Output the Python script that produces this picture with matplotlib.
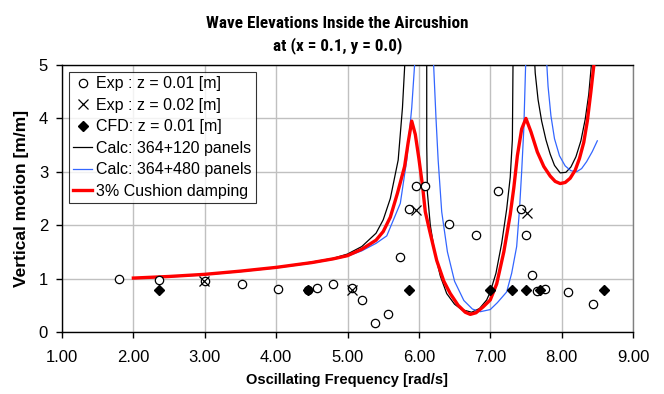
import matplotlib.pyplot as plt
from matplotlib import font_manager
import numpy as np

plt.rcParams['font.family'] = ['Liberation Sans', 'DejaVu Sans']

# ── Experimental / CFD points ──────────────────────────────
exp1_x = [1.80, 2.36, 3.00, 3.52, 4.02, 4.44, 4.57, 4.80, 5.06, 5.21, 5.38, 5.57,
          5.73, 5.86, 5.96, 6.09, 6.42, 6.80, 7.11, 7.43, 7.50, 7.59, 7.65, 7.77,
          8.09, 8.44]
exp1_y = [1.00, 0.97, 0.95, 0.89, 0.81, 0.79, 0.83, 0.90, 0.82, 0.60, 0.16, 0.34,
          1.41, 2.31, 2.74, 2.73, 2.02, 1.81, 2.64, 2.31, 1.82, 1.06, 0.77, 0.81,
          0.74, 0.53]

exp2_x = [2.99, 5.06, 5.96, 7.51]
exp2_y = [0.95, 0.79, 2.28, 2.22]

cfd_x = [2.36, 4.45, 5.86, 7.00, 7.30, 7.50, 7.70, 8.60]
cfd_y = [0.78, 0.78, 0.78, 0.78, 0.78, 0.78, 0.78, 0.78]

# ── Calculated curves (values above 5 are clipped) ─────────
calc120_x = [2.0, 2.5, 3.0, 3.5, 4.0, 4.5, 4.8, 5.0, 5.2, 5.4, 5.5, 5.6, 5.71, 5.77,
             5.81, 5.83, 6.09, 6.11, 6.11, 6.12, 6.16, 6.22, 6.30, 6.39, 6.50, 6.60,
             6.74, 6.85, 6.95, 7.00, 7.08, 7.16, 7.23, 7.28, 7.31, 7.32, 7.33, 7.59,
             7.61, 7.63, 7.67, 7.72, 7.78, 7.84, 7.90, 7.98, 8.06, 8.13, 8.20, 8.27,
             8.33, 8.38, 8.43]
calc120_y = [1.01, 1.04, 1.08, 1.14, 1.21, 1.31, 1.38, 1.46, 1.60, 1.85, 2.10, 2.50, 3.22, 4.20,
             5.20, 8.00, 8.00, 5.00, 3.50, 2.60, 2.00, 1.50, 1.05, 0.72, 0.52, 0.42,
             0.37, 0.44, 0.60, 0.75, 1.10, 1.66, 2.30, 2.90, 3.60, 5.20, 8.00, 8.00,
             5.40, 4.85, 4.35, 3.95, 3.60, 3.33, 3.12, 2.98, 2.99, 3.09, 3.28, 3.58,
             3.98, 4.45, 5.20]

calc480_x = [2.0, 2.5, 3.0, 3.5, 4.0, 4.5, 4.8, 5.0, 5.2, 5.4, 5.55, 5.74, 5.83, 5.90,
             5.95, 5.97, 6.18, 6.20, 6.24, 6.27, 6.32, 6.40, 6.50, 6.63, 6.75, 6.86,
             7.00, 7.10, 7.23, 7.30, 7.37, 7.41, 7.44, 7.47, 7.50, 7.51, 7.76, 7.78,
             7.81, 7.85, 7.90, 7.97, 8.05, 8.13, 8.21, 8.28, 8.35, 8.43, 8.50]
calc480_y = [1.00, 1.03, 1.07, 1.13, 1.20, 1.29, 1.36, 1.42, 1.52, 1.66, 1.80, 2.41, 3.22, 4.20,
             5.20, 8.00, 8.00, 5.20, 4.00, 3.22, 2.25, 1.50, 0.95, 0.59, 0.43, 0.38,
             0.42, 0.55, 0.75, 1.10, 1.60, 2.30, 3.00, 3.80, 5.20, 8.00, 8.00, 5.30,
             4.60, 4.05, 3.62, 3.30, 3.11, 3.02, 3.00, 3.06, 3.19, 3.38, 3.58]

damp_x = [2.0, 2.5, 3.0, 3.5, 4.0, 4.5, 4.8, 5.0, 5.2, 5.4, 5.5, 5.6, 5.7, 5.8, 5.85,
          5.9, 5.95, 6.0, 6.05, 6.09, 6.15, 6.25, 6.35, 6.44, 6.55, 6.65, 6.72, 6.8,
          6.9, 7.0, 7.09, 7.19, 7.28, 7.33, 7.38, 7.44, 7.5, 7.57, 7.66, 7.75, 7.84,
          7.91, 7.98, 8.05, 8.12, 8.19, 8.25, 8.31, 8.36, 8.41, 8.46]
damp_y = [1.01, 1.04, 1.08, 1.14, 1.21, 1.30, 1.37, 1.43, 1.55, 1.72, 1.88, 2.15, 2.60, 3.10, 3.55,
          3.95, 3.70, 3.25, 2.75, 2.25, 1.90, 1.34, 0.95, 0.72, 0.50, 0.37, 0.33, 0.36,
          0.47, 0.60, 0.90, 1.50, 2.20, 2.70, 3.30, 3.80, 4.00, 3.75, 3.37, 3.10, 2.92,
          2.82, 2.78, 2.80, 2.88, 3.03, 3.25, 3.55, 3.95, 4.50, 5.10]


# title font: a bold narrow grotesque if one is installed
def is_bold(w):
    if isinstance(w, str):
        return w in ('bold', 'heavy', 'extra bold', 'black', 'demibold', 'semibold')
    return w >= 600


narrow = {f.name for f in font_manager.fontManager.ttflist
          if ('Narrow' in f.name or 'Condensed' in f.name) and is_bold(f.weight)}
prefer = ['Liberation Sans Narrow', 'Arial Narrow', 'Nimbus Sans Narrow',
          'Roboto Condensed', 'Open Sans Condensed', 'DejaVu Sans Condensed']
pick = [n for n in prefer if n in narrow] or sorted(narrow)
title_family = [pick[0], 'Liberation Sans'] if pick else ['Liberation Sans']

fig = plt.figure(figsize=(6.64, 3.94), dpi=100)
ax = fig.add_axes([62 / 664, 1 - 332 / 394, 571 / 664, 267 / 394])

ax.plot(exp1_x, exp1_y, 'o', mfc='white', mec='black', mew=0.9, ms=6,
        label='Exp : z = 0.01 [m]', zorder=4)
ax.plot(exp2_x, exp2_y, 'x', color='black', mew=0.9, ms=7,
        label='Exp : z = 0.02 [m]', zorder=5)
ax.plot(cfd_x, cfd_y, 'D', color='black', ms=5,
        label='CFD: z = 0.01 [m]', zorder=6)
ax.plot(calc120_x, calc120_y, color='black', lw=0.9, label='Calc: 364+120 panels', zorder=3)
ax.plot(calc480_x, calc480_y, color='#3366ff', lw=0.9, label='Calc: 364+480 panels', zorder=3)
ax.plot(damp_x, damp_y, color='#ff0000', lw=2.4, label='3% Cushion damping', zorder=3)

ax.set_xlim(1, 9)
ax.set_ylim(0, 5)
ax.set_xticks(np.arange(1, 10))
ax.set_xticklabels([f'{v:.2f}' for v in range(1, 10)])
ax.set_yticks(range(6))
ax.grid(True, color='#c0c0c0', lw=1)
ax.set_axisbelow(True)
ax.tick_params(direction='out', length=4, width=1, labelsize=12)
ax.tick_params(axis='x', pad=9)
ax.tick_params(axis='y', pad=6)
ax.spines['right'].set_color('#808080')
for s in ax.spines.values():
    s.set_linewidth(1)

ax.set_xlabel('Oscillating Frequency [rad/s]', fontsize=10.5, fontweight='bold', labelpad=6)
ax.set_ylabel('Vertical motion [m/m]', fontsize=12.5, fontweight='bold', labelpad=7)
title = fig.text(0.508, 0.912, 'Wave Elevations Inside the Aircushion\nat (x = 0.1, y = 0.0)',
                 ha='center', va='center', fontsize=13, fontweight='bold',
                 family=title_family, linespacing=1.45)
# size the title so its first line spans about 260 px, as in the original
fig.canvas.draw()
w = title.get_window_extent().width
title.set_fontsize(min(14, max(11, 13 * 260 / w)))

leg = ax.legend(loc='upper left', bbox_to_anchor=(0.0128, 0.973), borderaxespad=0,
                fontsize=11.5, frameon=True, fancybox=False, edgecolor='black',
                handlelength=1.2, handletextpad=0.25, labelspacing=0.41, borderpad=0.25)
leg.get_frame().set_linewidth(0.8)

plt.savefig('out.png', dpi=100)
